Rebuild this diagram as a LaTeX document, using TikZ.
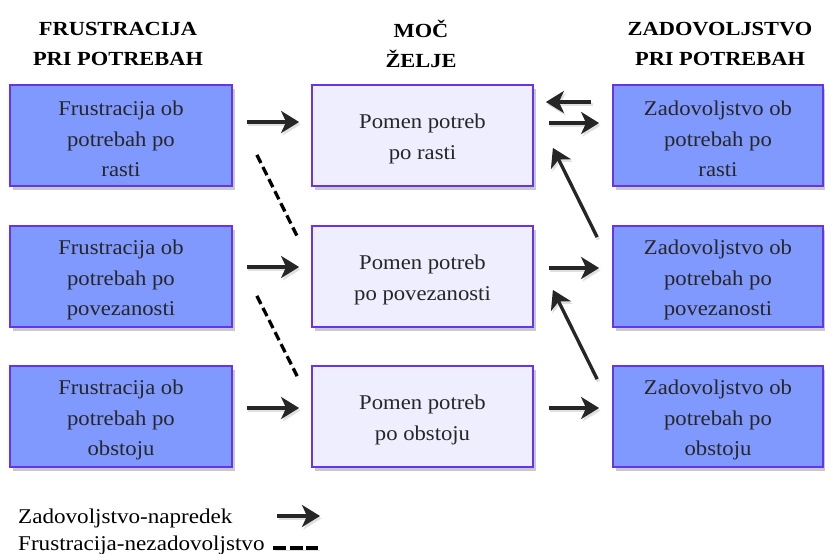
\documentclass[tikz,border=0pt]{standalone}
\usepackage{fontspec}
\setmainfont{Liberation Serif}[FakeStretch=1.08]
\usetikzlibrary{arrows.meta,calc,shadows}
\definecolor{boxblue}{HTML}{8099FF}
\definecolor{boxline}{HTML}{6633EE}
\definecolor{boxpale}{HTML}{EEEEFF}
\definecolor{arrowgray}{HTML}{262626}
\begin{document}
\begin{tikzpicture}[x=1pt,y=-1pt,
  box/.style={draw=boxline, line width=1.8pt, minimum height=101pt,
    drop shadow={shadow xshift=3pt, shadow yshift=-4pt, opacity=0.3, fill=black!70}},
  boxtext/.style={align=center, font=\fontsize{21}{30.5}\selectfont, text=black!85, yshift=-3.5pt},
  outer/.style={box, fill=boxblue},
  inner/.style={box, fill=boxpale},
  head/.style={align=center, font=\bfseries\fontsize{20}{30}\selectfont\addfontfeatures{FakeStretch=1.12}},
  arr/.style={draw=arrowgray, line width=3.3pt, -{Stealth[length=18pt,width=22pt,inset=5pt]},
    preaction={draw=black!12, line width=3.3pt, transform canvas={shift={(1.5pt,-2.5pt)}}}},
  dashline/.style={draw=black, line width=3.3pt, dash pattern=on 9pt off 4.5pt,
    preaction={draw=black!12, transform canvas={shift={(1.5pt,-2.5pt)}}}},
  legend/.style={anchor=west, font=\fontsize{21}{22}\selectfont\addfontfeatures{FakeStretch=1.1}, inner sep=0pt}]
\useasboundingbox (0,0) rectangle (825,554);

% column headings
\node[head] at (118,44) {FRUSTRACIJA\\PRI POTREBAH};
\node[head] at (421,44) {MOČ\\ŽELJE};
\node[head] at (720,44) {ZADOVOLJSTVO\\PRI POTREBAH};

% frustration column
\node[outer, minimum width=222pt, label={[boxtext]center:{Frustracija ob\\potrebah po\\rasti}}] (fr1) at (121,135.5) {};
\node[outer, minimum width=222pt, label={[boxtext]center:{Frustracija ob\\potrebah po\\povezanosti}}] (fr2) at (121,276.5) {};
\node[outer, minimum width=222pt, label={[boxtext]center:{Frustracija ob\\potrebah po\\obstoju}}] (fr3) at (121,416.5) {};

% strength of desire column
\node[inner, minimum width=221pt, label={[boxtext]center:{Pomen potreb\\po rasti}}] (mp1) at (422.5,135.5) {};
\node[inner, minimum width=221pt, label={[boxtext]center:{Pomen potreb\\po povezanosti}}] (mp2) at (422.5,276.5) {};
\node[inner, minimum width=221pt, label={[boxtext]center:{Pomen potreb\\po obstoju}}] (mp3) at (422.5,416.5) {};

% satisfaction column
\node[outer, minimum width=210pt, label={[boxtext]center:{Zadovoljstvo ob\\potrebah po\\rasti}}] (zd1) at (718,135.5) {};
\node[outer, minimum width=210pt, label={[boxtext]center:{Zadovoljstvo ob\\potrebah po\\povezanosti}}] (zd2) at (718,276.5) {};
\node[outer, minimum width=210pt, label={[boxtext]center:{Zadovoljstvo ob\\potrebah po\\obstoju}}] (zd3) at (718,416.5) {};

% frustration -> strength of desire
\draw[arr, shorten <=14pt, shorten >=12pt] ([yshift=13.5pt]fr1.east) -- ([yshift=13.5pt]mp1.west);
\draw[arr, shorten <=14pt, shorten >=12pt] ([yshift=9.5pt]fr2.east) -- ([yshift=9.5pt]mp2.west);
\draw[arr, shorten <=14pt, shorten >=12pt] ([yshift=8.5pt]fr3.east) -- ([yshift=8.5pt]mp3.west);

% frustration-regression
\draw[dashline] ($(fr1.south east)+(24,-32)$) -- ($(mp2.north west)+(-14,11)$);
\draw[dashline] ($(fr2.south east)+(24,-32)$) -- ($(mp3.north west)+(-14,11)$);

% satisfaction <-> strength of desire
\draw[arr, shorten <=21pt, shorten >=12pt] ([yshift=33.5pt]zd1.west) -- ([yshift=33.5pt]mp1.east);
\draw[arr, shorten <=15pt, shorten >=13pt] ([yshift=12.5pt]mp1.east) -- ([yshift=12.5pt]zd1.west);
\draw[arr, shorten <=15pt, shorten >=13pt] ([yshift=8.5pt]mp2.east) -- ([yshift=8.5pt]zd2.west);
\draw[arr, shorten <=15pt, shorten >=13pt] ([yshift=8.5pt]mp3.east) -- ([yshift=8.5pt]zd3.west);

% satisfaction-progression
\draw[arr] ($(zd2.north west)+(-15,12)$) -- ($(mp1.south east)+(19,-39)$);
\draw[arr] ($(zd3.north west)+(-15,14)$) -- ($(mp2.south east)+(19,-38)$);

% legend
\node[legend] (lg1) at (18,518.5) {Zadovoljstvo-napredek};
\node[legend] (lg2) at (18,545.5) {Frustracija-nezadovoljstvo};
\coordinate (la1) at (277,516);
\coordinate (la2) at (320,516);
\coordinate (ld1) at (273,548);
\coordinate (ld2) at (318,548);
\draw[arr] (la1) -- (la2);
\draw[dashline, line width=4pt, dash pattern=on 13pt off 3.5pt] (ld1) -- (ld2);
\end{tikzpicture}
\end{document}
